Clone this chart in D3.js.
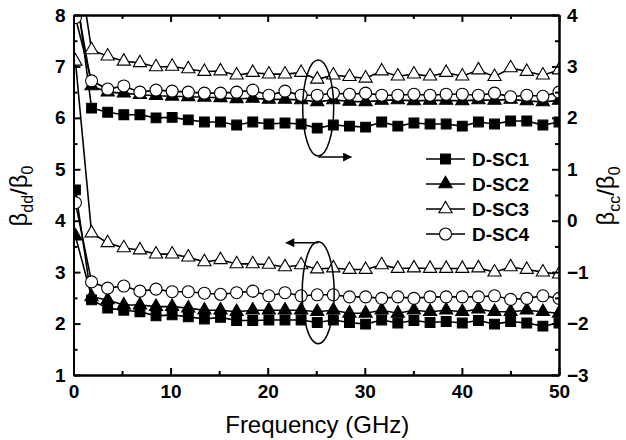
<!DOCTYPE html>
<html>
<head>
<meta charset="utf-8">
<script src="https://cdn.jsdelivr.net/npm/d3@7"></script>
<style>
  body { margin: 0; background: #fff; }
  text { font-family: "Liberation Sans", Arial, sans-serif; }
</style>
</head>
<body>
<svg id="chart" width="626" height="440"></svg>
<script>
// frequency points (GHz)
const freq = [0.2, 1.86, 3.52, 5.18, 6.84, 8.5, 10.16, 11.82, 13.48, 15.14, 16.8, 18.46,
  20.12, 21.78, 23.44, 25.1, 26.76, 28.42, 30.08, 31.74, 33.4, 35.06, 36.72, 38.38,
  40.04, 41.7, 43.36, 45.02, 46.68, 48.34, 50.0];

const names = ["D-SC1", "D-SC2", "D-SC3", "D-SC4"];

// beta_dd / beta_0 (left axis)
const dd1 = [4.6, 2.46, 2.3, 2.26, 2.23, 2.15, 2.17, 2.13, 2.09, 2.12, 2.06, 2.06, 2.07, 2.07, 2.07,
  2.02, 2.07, 2.02, 1.99, 2.07, 2.01, 2.06, 2.02, 2.04, 2.01, 2.06, 1.99, 2.04, 2.01, 1.95, 2.01];
const dd2 = [3.7, 2.52, 2.46, 2.36, 2.36, 2.33, 2.33, 2.3, 2.26, 2.26, 2.23, 2.26, 2.26, 2.26, 2.26,
  2.23, 2.26, 2.2, 2.2, 2.26, 2.2, 2.26, 2.23, 2.26, 2.23, 2.28, 2.23, 2.23, 2.26, 2.23, 2.2];
const dd3 = [7.1, 3.76, 3.57, 3.47, 3.43, 3.35, 3.35, 3.29, 3.2, 3.24, 3.16, 3.16, 3.15, 3.1, 3.14,
  3.06, 3.08, 3.05, 3.05, 3.14, 3.07, 3.08, 3.07, 3.07, 3.07, 3.08, 3.0, 3.1, 3.05, 3.0, 2.96];
const dd4 = [4.35, 2.81, 2.69, 2.73, 2.63, 2.67, 2.62, 2.62, 2.59, 2.57, 2.6, 2.63, 2.54, 2.6, 2.54,
  2.56, 2.56, 2.52, 2.52, 2.49, 2.52, 2.49, 2.52, 2.52, 2.52, 2.52, 2.54, 2.47, 2.49, 2.54, 2.49];

// beta_cc / beta_0 (right axis)
const cc1 = [4.6, 2.19, 2.11, 2.06, 2.06, 2.0, 2.01, 1.96, 1.92, 1.92, 1.86, 1.92, 1.88, 1.9, 1.88,
  1.8, 1.86, 1.84, 1.82, 1.92, 1.84, 1.9, 1.88, 1.88, 1.84, 1.92, 1.88, 1.94, 1.94, 1.86, 1.92];
const cc2 = [4.4, 2.62, 2.5, 2.48, 2.45, 2.43, 2.42, 2.41, 2.4, 2.39, 2.37, 2.38, 2.36, 2.36, 2.35,
  2.31, 2.35, 2.32, 2.31, 2.34, 2.35, 2.33, 2.34, 2.34, 2.33, 2.35, 2.34, 2.36, 2.33, 2.31, 2.34];
const cc3 = [5.4, 3.32, 3.2, 3.1, 3.07, 2.99, 3.0, 2.95, 2.9, 2.91, 2.83, 2.88, 2.85, 2.85, 2.88,
  2.75, 2.83, 2.8, 2.77, 2.91, 2.81, 2.85, 2.81, 2.88, 2.81, 2.93, 2.8, 2.97, 2.9, 2.83, 2.93];
const cc4 = [3.95, 2.72, 2.56, 2.62, 2.5, 2.54, 2.52, 2.5, 2.48, 2.48, 2.5, 2.54, 2.44, 2.52, 2.44,
  2.44, 2.48, 2.46, 2.48, 2.44, 2.44, 2.46, 2.44, 2.46, 2.46, 2.44, 2.48, 2.41, 2.44, 2.42, 2.5];

const xTicks = [0, 10, 20, 30, 40, 50];
const leftTicks = [1, 2, 3, 4, 5, 6, 7, 8];
const rightTicks = [-3, -2, -1, 0, 1, 2, 3, 4];

// marker look per series
const shapes = ["square", "triangle", "triangle", "circle"];
const fills = ["#000", "#000", "#fff", "#fff"];

const svg = d3.select("#chart");
const L = 73.5, R = 559, T = 15, B = 375;

const x = d3.scaleLinear().domain([0, 50]).range([L, R]);
const yL = d3.scaleLinear().domain([1, 8]).range([B, T]);
const yR = d3.scaleLinear().domain([-3, 4]).range([B, T]);

svg.append("defs").append("clipPath").attr("id", "plotclip")
  .append("rect").attr("x", L).attr("y", T).attr("width", R - L).attr("height", B - T);

function drawMarker(g, shape, fill, cx, cy) {
  if (shape === "circle") {
    g.append("circle").attr("cx", cx).attr("cy", cy).attr("r", 6)
      .attr("fill", fill).attr("stroke", "#000").attr("stroke-width", 1.1);
  } else {
    const sym = shape === "square" ? d3.symbolSquare : d3.symbolTriangle;
    const size = shape === "square" ? 96 : 76;
    g.append("path").attr("d", d3.symbol().type(sym).size(size)())
      .attr("transform", "translate(" + cx + "," + cy + ")")
      .attr("fill", fill).attr("stroke", "#000").attr("stroke-width", 1.1);
  }
}

const plot = svg.append("g").attr("clip-path", "url(#plotclip)");

function drawGroup(seriesList, yscale) {
  seriesList.forEach(function(vals, i) {
    const pts = freq.map((f, j) => [f, vals[j]]);
    const line = d3.line().x(d => x(d[0])).y(d => yscale(d[1]));
    plot.append("path").datum(pts).attr("d", line)
      .attr("fill", "none").attr("stroke", "#000").attr("stroke-width", 1.6);
    const mg = plot.append("g");
    pts.forEach(p => drawMarker(mg, shapes[i], fills[i], x(p[0]), yscale(p[1])));
  });
}

drawGroup([dd1, dd2, dd3, dd4], yL);
drawGroup([cc1, cc2, cc3, cc4], yR);

// axes
function styleAxis(g, fs) {
  g.selectAll("path.domain").attr("stroke", "#000").attr("stroke-width", 2);
  g.selectAll(".tick line").attr("stroke", "#000").attr("stroke-width", 2);
  g.selectAll("text").attr("font-size", fs).attr("font-weight", "bold")
    .attr("fill", "#000").attr("font-family", "Liberation Sans, Arial, sans-serif");
}
const fs = 19;
const minorX = d3.range(5, 50, 10);
const minorL = d3.range(1.5, 8, 1);
const minorR = d3.range(-2.5, 4, 1);

svg.append("g").attr("transform", "translate(0," + B + ")")
  .call(d3.axisBottom(x).tickValues(xTicks).tickFormat(d3.format("d"))
    .tickSizeInner(-7).tickSizeOuter(0).tickPadding(10))
  .call(g => styleAxis(g, fs));
svg.append("g").attr("transform", "translate(0," + B + ")")
  .call(d3.axisBottom(x).tickValues(minorX).tickFormat("").tickSizeInner(-4).tickSizeOuter(0))
  .call(g => styleAxis(g, fs));
svg.append("g").attr("transform", "translate(0," + T + ")")
  .call(d3.axisTop(x).tickValues(xTicks).tickFormat("").tickSizeInner(-7).tickSizeOuter(0))
  .call(g => styleAxis(g, fs));
svg.append("g").attr("transform", "translate(0," + T + ")")
  .call(d3.axisTop(x).tickValues(minorX).tickFormat("").tickSizeInner(-4).tickSizeOuter(0))
  .call(g => styleAxis(g, fs));

svg.append("g").attr("transform", "translate(" + L + ",0)")
  .call(d3.axisLeft(yL).tickValues(leftTicks).tickFormat(d3.format("d"))
    .tickSizeInner(-7).tickSizeOuter(0).tickPadding(8))
  .call(g => styleAxis(g, fs));
svg.append("g").attr("transform", "translate(" + L + ",0)")
  .call(d3.axisLeft(yL).tickValues(minorL).tickFormat("").tickSizeInner(-4).tickSizeOuter(0))
  .call(g => styleAxis(g, fs));
svg.append("g").attr("transform", "translate(" + R + ",0)")
  .call(d3.axisRight(yR).tickValues(rightTicks).tickFormat(d3.format("d"))
    .tickSizeInner(-7).tickSizeOuter(0).tickPadding(8))
  .call(g => styleAxis(g, fs));
svg.append("g").attr("transform", "translate(" + R + ",0)")
  .call(d3.axisRight(yR).tickValues(minorR).tickFormat("").tickSizeInner(-4).tickSizeOuter(0))
  .call(g => styleAxis(g, fs));

// annotation ellipses and arrows
svg.append("defs").append("marker").attr("id", "ah")
  .attr("viewBox", "0 0 10 10").attr("refX", 9).attr("refY", 5)
  .attr("markerWidth", 16).attr("markerHeight", 9).attr("markerUnits", "userSpaceOnUse")
  .attr("orient", "auto")
  .append("path").attr("d", "M0,0L10,5L0,10Z").attr("fill", "#000");

const ex = x(25.2);
svg.append("ellipse").attr("cx", ex).attr("cy", yR(2.19)).attr("rx", 15.5).attr("ry", 48)
  .attr("fill", "none").attr("stroke", "#000").attr("stroke-width", 1.5);
svg.append("line").attr("x1", ex).attr("y1", yR(2.19) + 49).attr("x2", x(28.6)).attr("y2", yR(2.19) + 49)
  .attr("stroke", "#000").attr("stroke-width", 1.5).attr("marker-end", "url(#ah)");
svg.append("ellipse").attr("cx", ex).attr("cy", yL(2.6)).attr("rx", 16).attr("ry", 51)
  .attr("fill", "none").attr("stroke", "#000").attr("stroke-width", 1.5);
svg.append("line").attr("x1", ex).attr("y1", yL(2.6) - 50).attr("x2", x(21.9)).attr("y2", yL(2.6) - 50)
  .attr("stroke", "#000").attr("stroke-width", 1.5).attr("marker-end", "url(#ah)");

// legend
const lg = svg.append("g");
names.forEach(function(n, i) {
  const ly = 159 + i * 25;
  lg.append("line").attr("x1", 426).attr("x2", 465).attr("y1", ly).attr("y2", ly)
    .attr("stroke", "#000").attr("stroke-width", 1.6);
  drawMarker(lg, shapes[i], fills[i], 445.5, ly);
  lg.append("text").attr("x", 472).attr("y", ly).attr("dy", "0.36em")
    .attr("font-size", 19).attr("font-weight", "bold").text(n);
});

// axis titles
svg.append("text").attr("x", (L + R) / 2 + 1).attr("y", 433).attr("text-anchor", "middle")
  .attr("font-size", 24).text("Frequency (GHz)");

function betaTitle(cx, cy, sub) {
  const t = svg.append("text").attr("transform", "translate(" + cx + "," + cy + ") rotate(-90)")
    .attr("text-anchor", "middle").attr("font-size", 24);
  t.append("tspan").text("\u03b2");
  t.append("tspan").attr("font-size", 16).attr("dy", 6).text(sub);
  t.append("tspan").attr("dy", -6).text("/\u03b2");
  t.append("tspan").attr("font-size", 16).attr("dy", 6).text("0");
}
betaTitle(27, 196, "dd");
betaTitle(614, 196, "cc");
</script>
</body>
</html>
